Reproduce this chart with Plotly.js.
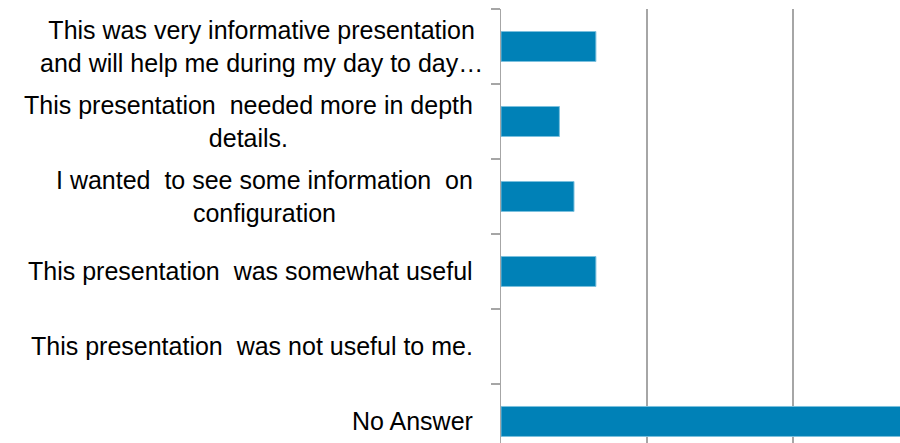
<!DOCTYPE html>
<html>
<head>
<meta charset="utf-8">
<script src="https://cdn.plot.ly/plotly-3.0.1.min.js"></script>
<style>
  html, body { margin: 0; padding: 0; background: #fff; overflow: hidden; }
  #chart { width: 900px; height: 443px; }
</style>
</head>
<body>
<div id="chart"></div>
<script>
// Data (percent of responses)
const categories = [
  "This was very informative presentation<br>and will help me during my day to day…",
  "This presentation\u00a0 needed more in depth<br>details.",
  "I wanted\u00a0 to see some information\u00a0 on<br>configuration",
  "This presentation\u00a0 was somewhat useful",
  "This presentation\u00a0 was not useful to me.",
  "No Answer"
];
const values = [13, 8, 10, 13, 0, 56];

const catIdx = categories.map((c, i) => i);

const trace = {
  type: "bar",
  orientation: "h",
  x: values,
  y: catIdx,
  marker: {
    color: "#0081B7",
    line: { color: "#7CC0DE", width: values.map(v => (v > 0 ? 1 : 0)) }
  },
  hoverinfo: "skip"
};

const labelShift = i => (i === 0 ? -16 : -26);

const annotations = categories.map((c, i) => ({
  xref: "paper", yref: "y",
  x: 0, y: i,
  xanchor: "right", yanchor: "middle",
  xshift: labelShift(i),
  text: c,
  align: "center",
  showarrow: false,
  font: { family: "Liberation Sans, Arial, sans-serif", size: 25, color: "#000" }
}));

const layout = {
  width: 900, height: 443,
  margin: { l: 501, r: 0, t: 9, b: 0, pad: 0 },
  paper_bgcolor: "#fff", plot_bgcolor: "#fff",
  showlegend: false,
  bargap: 0.6,
  xaxis: {
    range: [0, 54.66], autorange: false,
    tick0: 0, dtick: 20,
    showgrid: true, gridcolor: "#A6A6A6", gridwidth: 1.5,
    zeroline: false, showline: false,
    showticklabels: false, ticks: ""
  },
  yaxis: {
    range: [5.287, -0.5], autorange: false,
    tickmode: "array",
    tickvals: catIdx.map(i => i - 0.5),
    ticktext: catIdx.map(() => ""),
    showgrid: false, zeroline: false,
    showline: true, linecolor: "#A6A6A6", linewidth: 1.5,
    ticks: "outside", ticklen: 9, tickwidth: 1.5, tickcolor: "#A6A6A6"
  },
  annotations: annotations
};

Plotly.newPlot("chart", [trace], layout, { staticPlot: true, displayModeBar: false });
</script>
</body>
</html>
